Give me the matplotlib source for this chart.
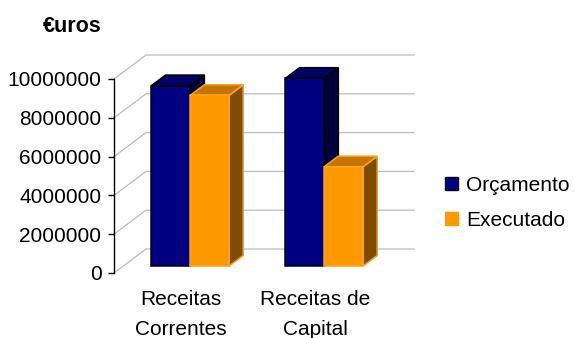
import matplotlib
matplotlib.use("Agg")
import matplotlib.pyplot as plt
from matplotlib.patches import Polygon, Patch
from matplotlib.lines import Line2D

plt.rcParams["font.family"] = ["Liberation Sans", "DejaVu Sans"]

# Data
categories = ["Receitas\nCorrentes", "Receitas de\nCapital"]
series_names = ["Orçamento", "Executado"]
orcamento = [9300000, 9680000]
executado = [8800000, 5120000]
y_ticks = [0, 2000000, 4000000, 6000000, 8000000, 10000000]
y_tick_labels = ["0", "2000000", "4000000", "6000000", "8000000", "10000000"]

# Colours: front, top, side, edge
blue = dict(front="#000080", top="#000066", side="#00003f", edge="#000000")
orange = dict(front="#ff9900", top="#c47600", side="#7f4c00", edge="#ffa31a")

W, H = 574, 338
fig = plt.figure(figsize=(W / 100, H / 100), dpi=100)
ax = fig.add_axes([114 / W, 65 / H, 268 / W, 194 / H])
ax.set_xlim(0, len(categories))
ax.set_ylim(0, 10000000)

# Convert oblique depth (in pixels) into data units through the axes scale
bbox = ax.get_window_extent()
px_x = bbox.width / (ax.get_xlim()[1] - ax.get_xlim()[0])
px_y = bbox.height / (ax.get_ylim()[1] - ax.get_ylim()[0])
depth_x = 32 / px_x
depth_y = 24 / px_y

# Back wall grid lines with floor-to-wall diagonals
for t in y_ticks:
    ax.add_line(Line2D([0, depth_x, len(categories) + depth_x],
                       [t, t + depth_y, t + depth_y],
                       color="#bdbdbd", lw=0.9, clip_on=False, zorder=1))

# Bars as oblique boxes
f0 = 0.29   # front face position within the depth
fb = 0.44   # bar depth
ox, oy = f0 * depth_x, f0 * depth_y
bx, by = fb * depth_x, fb * depth_y
bar_w = 0.29


def box(x0, v, c, z):
    x1 = x0 + bar_w
    front = [(x0 + ox, oy), (x1 + ox, oy), (x1 + ox, v + oy), (x0 + ox, v + oy)]
    top = [(x0 + ox, v + oy), (x1 + ox, v + oy),
           (x1 + ox + bx, v + oy + by), (x0 + ox + bx, v + oy + by)]
    side = [(x1 + ox, oy), (x1 + ox + bx, oy + by),
            (x1 + ox + bx, v + oy + by), (x1 + ox, v + oy)]
    for pts, col in ((side, c["side"]), (top, c["top"]), (front, c["front"])):
        ax.add_patch(Polygon(pts, closed=True, facecolor=col, edgecolor=c["edge"],
                             lw=1.1, joinstyle="miter", clip_on=False, zorder=z))


for i in range(len(categories)):
    centre = i + 0.5
    box(centre - bar_w, orcamento[i], blue, 3 + 2 * i)
    box(centre, executado[i], orange, 4 + 2 * i)

# Axes styling
for s in ("top", "right", "bottom"):
    ax.spines[s].set_visible(False)
ax.spines["left"].set_linewidth(1.0)
ax.set_yticks(y_ticks)
ax.set_yticklabels(y_tick_labels, fontsize=15)
ax.tick_params(axis="y", length=4.5, width=1.0, pad=4.5, color="black")
ax.set_xticks([i + 0.5 for i in range(len(categories))])
ax.set_xticklabels(categories, fontsize=15)
ax.tick_params(axis="x", length=0, pad=12)
for lbl in ax.get_xticklabels():
    lbl.set_linespacing(1.75)
    lbl.set_multialignment("center")
ax.patch.set_visible(False)

fig.text(72.5 / W, 1 - 26 / H, "€uros", fontsize=15.5, fontweight="bold",
         ha="center", va="center")

handles = [Patch(facecolor=blue["front"], edgecolor="black", lw=1.0),
           Patch(facecolor=orange["front"], edgecolor=orange["front"], lw=1.0)]
fig.legend(handles, series_names, loc="center left",
           bbox_to_anchor=(445 / W, 135 / H), bbox_transform=fig.transFigure,
           frameon=False, fontsize=15, handlelength=0.6, handleheight=0.6,
           handletextpad=0.4, labelspacing=0.75, borderpad=0, borderaxespad=0)

fig.savefig("out.png", dpi=100)
